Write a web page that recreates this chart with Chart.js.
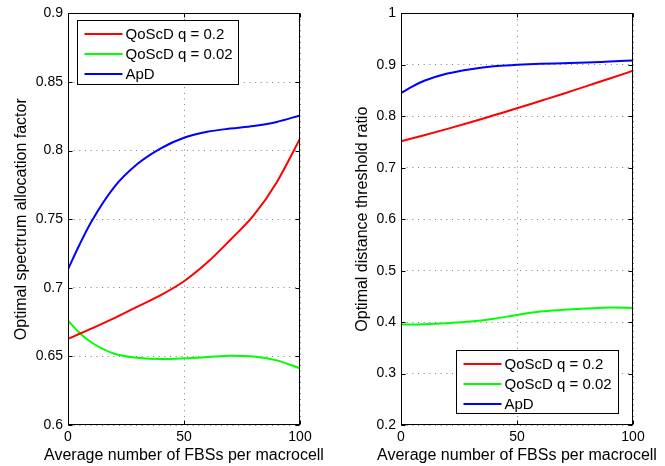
<!DOCTYPE html>
<html>
<head>
<meta charset="utf-8">
<title>Optimal parameters vs FBS density</title>
<script src="https://cdn.jsdelivr.net/npm/chart.js@4.4.0/dist/chart.umd.min.js"></script>
<style>
  body { margin: 0; background: #fff; }
  #wrap { position: relative; width: 665px; height: 466px; }
  canvas { position: absolute; top: 0; }
</style>
</head>
<body>
<div id="wrap">
  <canvas id="allocChart" width="333" height="466" style="left:0"></canvas>
  <canvas id="distChart" width="332" height="466" style="left:333px"></canvas>
</div>
<script>
// Average number of FBSs per macrocell
const fbsCounts = [0, 5, 10, 20, 30, 40, 50, 60, 70, 80, 90, 100];

const seriesNames = ['QoScD q = 0.2', 'QoScD q = 0.02', 'ApD'];
const seriesColors = ['#ff0000', '#00ff00', '#0000ff'];

// Optimal spectrum allocation factor
const allocQ02  = [0.6628, 0.6665, 0.6702, 0.6779, 0.6863, 0.6947, 0.7048, 0.7184, 0.7350, 0.7527, 0.7770, 0.8087];
const allocQ002 = [0.6760, 0.6671, 0.6603, 0.6519, 0.6490, 0.6481, 0.6486, 0.6495, 0.6505, 0.6500, 0.6471, 0.6413];
const allocApD  = [0.7135, 0.7316, 0.7480, 0.7736, 0.7904, 0.8017, 0.8094, 0.8137, 0.8161, 0.8180, 0.8209, 0.8257];

// Optimal distance threshold ratio
const distQ02  = [0.7516, 0.7573, 0.7632, 0.7755, 0.7884, 0.8019, 0.8155, 0.8297, 0.8439, 0.8587, 0.8735, 0.8884];
const distQ002 = [0.3955, 0.3955, 0.3960, 0.3980, 0.4010, 0.4065, 0.4140, 0.4205, 0.4238, 0.4263, 0.4282, 0.4276];
const distApD  = [0.8452, 0.8580, 0.8690, 0.8832, 0.8916, 0.8974, 0.9000, 0.9020, 0.9032, 0.9045, 0.9065, 0.9084];

const xTicks = [0, 50, 100];
const allocTicks = [0.6, 0.65, 0.7, 0.75, 0.8, 0.85, 0.9];
const distTicks = [0.2, 0.3, 0.4, 0.5, 0.6, 0.7, 0.8, 0.9, 1];

const xTitle = 'Average number of FBSs per macrocell';

const fontFamily = '"Liberation Sans", Arial, Helvetica, sans-serif';
Chart.defaults.font.family = fontFamily;
Chart.defaults.font.size = 14;
Chart.defaults.color = '#000';

// black box around the plot area, with short inward tick marks on all sides
const axesFrame = {
    id: 'axesFrame',
    afterDatasetsDraw(chart) {
        const { ctx, chartArea: a, scales } = chart;
        const L = Math.round(a.left) + 0.5, R = Math.round(a.right) - 0.5;
        const T = Math.round(a.top) + 0.5, B = Math.round(a.bottom) - 0.5;
        const len = 4;
        ctx.save();
        ctx.strokeStyle = '#000';
        ctx.lineWidth = 1;
        ctx.beginPath();
        scales.x.ticks.forEach(t => {
            const px = Math.round(scales.x.getPixelForValue(t.value)) + 0.5;
            ctx.moveTo(px, B); ctx.lineTo(px, B - len);
            ctx.moveTo(px, T); ctx.lineTo(px, T + len);
        });
        scales.y.ticks.forEach(t => {
            const py = Math.round(scales.y.getPixelForValue(t.value)) + 0.5;
            ctx.moveTo(L, py); ctx.lineTo(L + len, py);
            ctx.moveTo(R, py); ctx.lineTo(R - len, py);
        });
        ctx.stroke();
        ctx.strokeRect(L, T, R - L, B - T);
        ctx.restore();
    }
};

// x axis title, drawn by hand so it is not squeezed to the axis width
const bottomTitle = {
    id: 'bottomTitle',
    afterDraw(chart, args, opts) {
        const { ctx, chartArea: a } = chart;
        ctx.save();
        ctx.font = '16px ' + fontFamily;
        ctx.fillStyle = '#000';
        ctx.textAlign = 'center';
        ctx.textBaseline = 'alphabetic';
        ctx.fillText(opts.text, (a.left + a.right) / 2, a.bottom + opts.offset);
        ctx.restore();
    }
};

// legend drawn inside the axes, in a framed white box
const boxLegend = {
    id: 'boxLegend',
    afterDatasetsDraw(chart, args, opts) {
        const { ctx, chartArea: a } = chart;
        const left = Math.round(a.left + opts.left) + 0.5;
        const top = Math.round(a.top + opts.top) + 0.5;
        ctx.save();
        ctx.fillStyle = '#fff';
        ctx.fillRect(left, top, opts.width, opts.height);
        ctx.strokeStyle = '#000';
        ctx.lineWidth = 1;
        ctx.strokeRect(left, top, opts.width, opts.height);
        ctx.font = '15px ' + fontFamily;
        ctx.textBaseline = 'middle';
        ctx.textAlign = 'left';
        chart.data.datasets.forEach((ds, i) => {
            const y = Math.round(top + 13.5 + i * 20);
            ctx.strokeStyle = ds.borderColor;
            ctx.lineWidth = 2;
            ctx.beginPath();
            ctx.moveTo(left + 7, y);
            ctx.lineTo(left + 45, y);
            ctx.stroke();
            ctx.fillStyle = '#000';
            ctx.fillText(ds.label, left + 48, y + 1);
        });
        ctx.restore();
    }
};

function buildDatasets(seriesList) {
    return seriesList.map((values, i) => ({
        label: seriesNames[i],
        data: fbsCounts.map((x, k) => ({ x: x, y: values[k] })),
        borderColor: seriesColors[i],
        backgroundColor: seriesColors[i],
        borderWidth: 2,
        pointRadius: 0,
        cubicInterpolationMode: 'monotone',
        fill: false
    }));
}

// dotted grid: in v4 the dash pattern of grid lines is taken from border.dash
const gridStyle = { color: 'rgba(0,0,0,0.5)', lineWidth: 1, drawTicks: false };
const gridBorder = { display: false, dash: [1, 4.67] };

function makeChart(canvasId, seriesList, yTicks, yTitle, titlePad, padRight, legendBox) {
    const ctx = document.getElementById(canvasId).getContext('2d');
    return new Chart(ctx, {
        type: 'line',
        data: { datasets: buildDatasets(seriesList) },
        plugins: [axesFrame, boxLegend, bottomTitle],
        options: {
            responsive: false,
            animation: false,
            layout: { padding: { left: 0, top: 11, right: padRight, bottom: 0 } },
            plugins: {
                legend: { display: false },
                tooltip: { enabled: false },
                boxLegend: legendBox,
                bottomTitle: { text: xTitle, offset: 34.5 }
            },
            scales: {
                x: {
                    type: 'linear',
                    min: xTicks[0],
                    max: xTicks[xTicks.length - 1],
                    afterBuildTicks: s => { s.ticks = xTicks.map(v => ({ value: v })); },
                    afterFit: s => { s.height = 41; },
                    ticks: { padding: 4, maxRotation: 0, callback: v => String(v) },
                    grid: gridStyle,
                    border: gridBorder
                },
                y: {
                    min: yTicks[0],
                    max: yTicks[yTicks.length - 1],
                    afterBuildTicks: s => { s.ticks = yTicks.map(v => ({ value: v })); },
                    afterFit: s => { s.width = 68; },
                    ticks: { padding: 5, callback: v => String(v) },
                    grid: gridStyle,
                    border: gridBorder,
                    title: {
                        display: true,
                        text: yTitle,
                        font: { size: 16 },
                        padding: { top: titlePad, bottom: 0 }
                    }
                }
            }
        }
    });
}

makeChart('allocChart', [allocQ02, allocQ002, allocApD], allocTicks,
    'Optimal spectrum allocation factor', 11.5, 33,
    { left: 9, top: 7, width: 161, height: 64 });

makeChart('distChart', [distQ02, distQ002, distApD], distTicks,
    'Optimal distance threshold ratio', 19.5, 32,
    { left: 55, top: 337, width: 162, height: 63 });
</script>
</body>
</html>
